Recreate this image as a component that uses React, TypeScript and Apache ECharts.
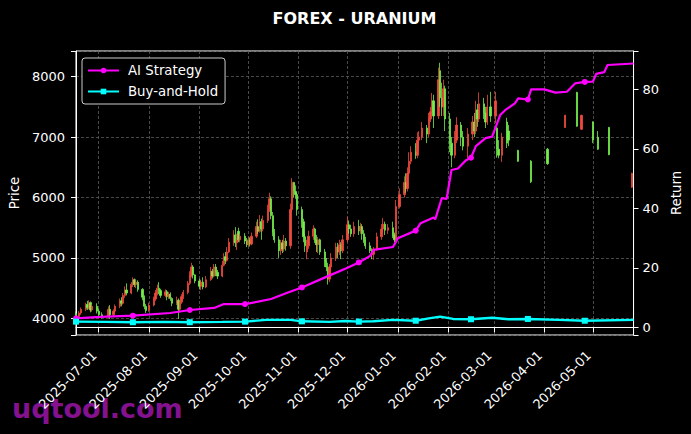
import React, { useEffect, useRef } from 'react';
import * as echarts from 'echarts';

const FONT = '"DejaVu Sans", sans-serif';
const RED = '#f04a3c';
const GREEN = '#74ee4c';
const MAGENTA = '#ff00ff';
const CYAN = '#00ffff';

// calendar range of the x axis
const START_UTC = Date.UTC(2025, 5, 17);
const END_UTC = Date.UTC(2026, 4, 26);

// [date, open, close, low, high]
const candles: [string, number, number, number, number][] = [
  ['2025-06-17', 4080, 4030, 4000, 4110],
  ['2025-06-19', 4030, 4090, 4000, 4120],
  ['2025-06-20', 4090, 4150, 4060, 4180],
  ['2025-06-23', 4150, 4230, 4120, 4260],
  ['2025-06-24', 4230, 4180, 4140, 4290],
  ['2025-06-25', 4180, 4260, 4150, 4300],
  ['2025-06-26', 4260, 4140, 4100, 4280],
  ['2025-06-27', 4140, 4200, 4110, 4230],
  ['2025-06-30', 4200, 4120, 4080, 4250],
  ['2025-07-01', 4120, 4060, 4040, 4160],
  ['2025-07-03', 4060, 4030, 4000, 4100],
  ['2025-07-07', 4030, 4150, 4010, 4200],
  ['2025-07-08', 4150, 4060, 3990, 4220],
  ['2025-07-10', 4060, 4120, 4030, 4150],
  ['2025-07-11', 4120, 4200, 4090, 4230],
  ['2025-07-14', 4200, 4290, 4170, 4330],
  ['2025-07-15', 4290, 4250, 4200, 4350],
  ['2025-07-16', 4250, 4380, 4230, 4420],
  ['2025-07-17', 4380, 4470, 4340, 4530],
  ['2025-07-18', 4470, 4420, 4380, 4580],
  ['2025-07-21', 4420, 4560, 4400, 4600],
  ['2025-07-22', 4560, 4640, 4520, 4680],
  ['2025-07-23', 4640, 4560, 4520, 4660],
  ['2025-07-24', 4560, 4600, 4500, 4640],
  ['2025-07-25', 4600, 4480, 4440, 4630],
  ['2025-07-28', 4480, 4350, 4300, 4500],
  ['2025-07-29', 4350, 4200, 4150, 4380],
  ['2025-07-30', 4200, 4130, 4090, 4240],
  ['2025-08-01', 4130, 4220, 4110, 4260],
  ['2025-08-04', 4220, 4320, 4200, 4360],
  ['2025-08-05', 4320, 4420, 4290, 4470],
  ['2025-08-06', 4420, 4500, 4380, 4560],
  ['2025-08-07', 4500, 4460, 4400, 4600],
  ['2025-08-08', 4460, 4380, 4340, 4490],
  ['2025-08-11', 4380, 4440, 4350, 4480],
  ['2025-08-12', 4440, 4360, 4300, 4470],
  ['2025-08-13', 4360, 4400, 4320, 4440],
  ['2025-08-14', 4400, 4330, 4290, 4430],
  ['2025-08-15', 4330, 4250, 4200, 4350],
  ['2025-08-18', 4250, 4300, 4220, 4360],
  ['2025-08-19', 4300, 4150, 3990, 4330],
  ['2025-08-20', 4150, 4270, 4100, 4300],
  ['2025-08-21', 4270, 4360, 4240, 4400],
  ['2025-08-22', 4360, 4430, 4320, 4470],
  ['2025-08-25', 4430, 4580, 4400, 4620],
  ['2025-08-26', 4580, 4720, 4550, 4780],
  ['2025-08-27', 4720, 4850, 4680, 4920],
  ['2025-08-28', 4850, 4720, 4660, 4880],
  ['2025-08-29', 4720, 4620, 4580, 4730],
  ['2025-09-01', 4620, 4530, 4480, 4660],
  ['2025-09-02', 4530, 4600, 4470, 4640],
  ['2025-09-03', 4600, 4520, 4480, 4680],
  ['2025-09-05', 4520, 4640, 4500, 4700],
  ['2025-09-08', 4640, 4780, 4620, 4850],
  ['2025-09-09', 4780, 4700, 4660, 4820],
  ['2025-09-10', 4700, 4850, 4680, 4900],
  ['2025-09-11', 4850, 4760, 4700, 4900],
  ['2025-09-12', 4760, 4700, 4650, 4800],
  ['2025-09-15', 4700, 4880, 4680, 4950],
  ['2025-09-16', 4880, 5020, 4860, 5080],
  ['2025-09-17', 5020, 4960, 4900, 5100],
  ['2025-09-18', 4960, 5100, 4940, 5180],
  ['2025-09-19', 5100, 5260, 5080, 5330],
  ['2025-09-22', 5260, 5380, 5200, 5460],
  ['2025-09-23', 5380, 5250, 5180, 5510],
  ['2025-09-24', 5250, 5340, 5130, 5400],
  ['2025-09-25', 5440, 5300, 5260, 5500],
  ['2025-09-26', 5300, 5360, 5260, 5400],
  ['2025-09-29', 5360, 5280, 5230, 5410],
  ['2025-09-30', 5280, 5220, 5180, 5330],
  ['2025-10-01', 5220, 5300, 5190, 5350],
  ['2025-10-02', 5300, 5230, 5190, 5340],
  ['2025-10-03', 5230, 5360, 5210, 5420],
  ['2025-10-06', 5360, 5520, 5330, 5600],
  ['2025-10-07', 5520, 5440, 5400, 5640],
  ['2025-10-08', 5440, 5600, 5420, 5710],
  ['2025-10-09', 5600, 5480, 5300, 5650],
  ['2025-10-10', 5480, 5620, 5440, 5700],
  ['2025-10-13', 5620, 5800, 5580, 5880],
  ['2025-10-14', 5800, 5980, 5760, 6080],
  ['2025-10-15', 5980, 5700, 5640, 6020],
  ['2025-10-16', 5700, 5420, 5360, 5760],
  ['2025-10-17', 5420, 5300, 5250, 5480],
  ['2025-10-20', 5300, 5120, 5000, 5360],
  ['2025-10-21', 5120, 5250, 5050, 5300],
  ['2025-10-22', 5250, 5150, 5080, 5300],
  ['2025-10-23', 5150, 5280, 5100, 5380],
  ['2025-10-24', 5280, 5200, 5120, 5330],
  ['2025-10-27', 5200, 5800, 5150, 5900],
  ['2025-10-28', 5800, 6250, 5750, 6320],
  ['2025-10-29', 6250, 6100, 6000, 6260],
  ['2025-10-30', 6100, 6050, 5980, 6200],
  ['2025-10-31', 6050, 5800, 5700, 6080],
  ['2025-11-03', 5800, 5600, 5500, 5850],
  ['2025-11-04', 5600, 5350, 5260, 5650],
  ['2025-11-05', 5350, 5200, 5100, 5400],
  ['2025-11-06', 5100, 5200, 4980, 5300],
  ['2025-11-07', 5200, 5360, 5150, 5450],
  ['2025-11-10', 5360, 5480, 5300, 5540],
  ['2025-11-11', 5480, 5300, 5250, 5500],
  ['2025-11-12', 5300, 5220, 5100, 5380],
  ['2025-11-13', 5220, 5300, 5080, 5350],
  ['2025-11-14', 5300, 5100, 5050, 5320],
  ['2025-11-17', 5100, 4950, 4850, 5150],
  ['2025-11-18', 4950, 4850, 4780, 5000],
  ['2025-11-19', 4850, 4650, 4560, 4920],
  ['2025-11-20', 4650, 4850, 4600, 4900],
  ['2025-11-21', 4850, 5000, 4780, 5080],
  ['2025-11-24', 5000, 5180, 4950, 5250],
  ['2025-11-25', 5180, 5100, 5000, 5250],
  ['2025-11-26', 5100, 5220, 5050, 5300],
  ['2025-11-27', 5220, 5120, 4980, 5260],
  ['2025-11-28', 5120, 5300, 5080, 5380],
  ['2025-12-01', 5300, 5550, 5260, 5680],
  ['2025-12-02', 5550, 5480, 5400, 5620],
  ['2025-12-03', 5480, 5400, 5350, 5550],
  ['2025-12-05', 5400, 5520, 5350, 5600],
  ['2025-12-08', 5520, 5450, 5380, 5630],
  ['2025-12-09', 5450, 5520, 5400, 5580],
  ['2025-12-10', 5520, 5400, 5300, 5560],
  ['2025-12-11', 5400, 5300, 5250, 5460],
  ['2025-12-12', 5300, 5200, 5150, 5350],
  ['2025-12-15', 5200, 5120, 5080, 5260],
  ['2025-12-16', 5120, 5060, 4980, 5160],
  ['2025-12-17', 5060, 5150, 4970, 5180],
  ['2025-12-19', 5150, 5350, 5120, 5420],
  ['2025-12-22', 5350, 5480, 5300, 5560],
  ['2025-12-23', 5480, 5560, 5420, 5660],
  ['2025-12-24', 5560, 5460, 5380, 5600],
  ['2025-12-26', 5460, 5500, 5400, 5560],
  ['2025-12-29', 5500, 5380, 5330, 5600],
  ['2025-12-30', 5380, 5300, 5260, 5420],
  ['2025-12-31', 5300, 5850, 5280, 5960],
  ['2026-01-02', 5850, 6050, 5820, 6150],
  ['2026-01-05', 6050, 6250, 6000, 6350],
  ['2026-01-06', 6250, 6150, 6080, 6400],
  ['2026-01-07', 6150, 6400, 6100, 6500],
  ['2026-01-08', 6400, 6600, 6350, 6750],
  ['2026-01-09', 6600, 6750, 6550, 6850],
  ['2026-01-12', 6750, 6700, 6640, 6900],
  ['2026-01-13', 6700, 6950, 6650, 7080],
  ['2026-01-14', 6950, 7000, 6800, 7100],
  ['2026-01-16', 7000, 7150, 6950, 7250],
  ['2026-01-19', 7150, 7050, 6900, 7200],
  ['2026-01-20', 7050, 7300, 7000, 7400],
  ['2026-01-21', 7300, 7420, 7250, 7500],
  ['2026-01-22', 7420, 7600, 7380, 7730],
  ['2026-01-23', 7600, 7350, 7150, 7700],
  ['2026-01-26', 7350, 7950, 7300, 8150],
  ['2026-01-27', 8100, 7650, 7500, 8230],
  ['2026-01-28', 7650, 7500, 7350, 7900],
  ['2026-01-29', 7500, 7800, 7350, 7950],
  ['2026-01-30', 7800, 7300, 7100, 7850],
  ['2026-02-02', 7300, 6900, 6750, 7400],
  ['2026-02-03', 6900, 6700, 6500, 7000],
  ['2026-02-05', 6700, 6950, 6650, 7100],
  ['2026-02-06', 6950, 7200, 6900, 7330],
  ['2026-02-09', 7200, 7000, 6850, 7250],
  ['2026-02-10', 7000, 6850, 6780, 7100],
  ['2026-02-13', 6850, 7050, 6650, 7150],
  ['2026-02-16', 7050, 7250, 6950, 7350],
  ['2026-02-17', 7250, 7100, 7000, 7400],
  ['2026-02-18', 7100, 7450, 7050, 7600],
  ['2026-02-19', 7450, 7300, 7170, 7550],
  ['2026-02-20', 7300, 7550, 7250, 7740],
  ['2026-02-23', 7550, 7400, 7300, 7650],
  ['2026-02-24', 7400, 7250, 7150, 7500],
  ['2026-02-25', 7250, 7500, 7200, 7700],
  ['2026-02-27', 7500, 7350, 7250, 7750],
  ['2026-03-02', 7350, 7600, 7230, 7750],
  ['2026-03-03', 7150, 6800, 6660, 7170],
  ['2026-03-04', 6800, 6700, 6650, 6950],
  ['2026-03-06', 6700, 7000, 6590, 7070],
  ['2026-03-09', 7250, 6900, 6820, 7320],
  ['2026-03-10', 7100, 6950, 6850, 7200],
  ['2026-03-16', 6780, 6600, 6590, 6790],
  ['2026-03-24', 6600, 6260, 6240, 6620],
  ['2026-04-03', 6800, 6560, 6540, 6820],
  ['2026-04-14', 7160, 7360, 7150, 7370],
  ['2026-04-21', 7740, 7180, 7170, 7750],
  ['2026-04-24', 7130, 7360, 7120, 7370],
  ['2026-05-01', 7250, 6950, 6900, 7260],
  ['2026-05-04', 7000, 6800, 6790, 7100],
  ['2026-05-11', 7160, 6710, 6700, 7170],
  ['2026-05-25', 6170, 6400, 6160, 6410],
];

// [date, return]
const aiStrategy: [string, number][] = [
  ['2025-06-17', 3.0], ['2025-07-02', 3.5], ['2025-07-22', 3.9], ['2025-08-14', 4.8],
  ['2025-08-26', 5.8], ['2025-09-10', 6.5], ['2025-09-16', 7.8], ['2025-09-29', 7.8],
  ['2025-10-07', 8.6], ['2025-10-15', 9.5], ['2025-10-25', 11.6], ['2025-11-03', 13.4],
  ['2025-11-19', 17.2], ['2025-11-30', 19.8], ['2025-12-08', 21.8], ['2025-12-15', 24.0],
  ['2025-12-17', 26.0], ['2025-12-29', 27.0], ['2026-01-01', 29.9], ['2026-01-12', 32.5],
  ['2026-01-15', 35.0], ['2026-01-23', 36.9], ['2026-01-24', 36.3], ['2026-01-28', 43.4],
  ['2026-01-31', 43.2], ['2026-02-03', 52.9], ['2026-02-07', 53.4], ['2026-02-12', 56.2],
  ['2026-02-15', 57.0], ['2026-02-18', 60.9], ['2026-02-24', 63.6], ['2026-02-28', 64.1],
  ['2026-03-05', 71.4], ['2026-03-08', 73.0], ['2026-03-14', 75.3], ['2026-03-16', 77.0],
  ['2026-03-22', 76.6], ['2026-03-24', 80.0], ['2026-04-01', 80.0], ['2026-04-08', 78.9],
  ['2026-04-15', 79.2], ['2026-04-20', 82.0], ['2026-04-26', 82.5], ['2026-05-01', 82.6],
  ['2026-05-03', 85.2], ['2026-05-08', 85.8], ['2026-05-10', 88.2], ['2026-05-26', 88.7],
];

const buyAndHold: [string, number][] = [
  ['2025-06-17', 1.9], ['2025-07-05', 1.8], ['2025-07-22', 1.7], ['2025-08-10', 1.8],
  ['2025-08-26', 1.7], ['2025-09-15', 1.8], ['2025-09-29', 1.9], ['2025-10-12', 2.5],
  ['2025-10-27', 2.5], ['2025-11-03', 2.0], ['2025-11-20', 1.8], ['2025-11-30', 2.1],
  ['2025-12-08', 1.9], ['2025-12-17', 2.0], ['2025-12-29', 2.5], ['2026-01-12', 2.2],
  ['2026-01-20', 3.0], ['2026-01-27', 3.6], ['2026-02-04', 2.8], ['2026-02-15', 2.7],
  ['2026-02-28', 3.2], ['2026-03-10', 2.7], ['2026-03-22', 2.8], ['2026-04-10', 2.5],
  ['2026-04-26', 2.2], ['2026-05-26', 2.5],
];

const markerDates = [
  '2025-06-17', '2025-07-22', '2025-08-26', '2025-09-29', '2025-11-03',
  '2025-12-08', '2026-01-12', '2026-02-15', '2026-03-22', '2026-04-26',
];

const categories: string[] = [];
for (let t = START_UTC; t <= END_UTC; t += 86400000) {
  categories.push(new Date(t).toISOString().slice(0, 10));
}

export default function App() {
  const ref = useRef<HTMLDivElement>(null);
  useEffect(() => {
    if (!ref.current) return;
    const chart = echarts.init(ref.current, null, { renderer: 'svg' });
    const idx = (d: string) => categories.indexOf(d);
    const candleData = candles.map((c) => [idx(c[0]), c[1], c[2], c[3], c[4]]);
    const lineData = (arr: [string, number][]) =>
      arr.map(([d, v]) =>
        markerDates.includes(d) ? { value: [idx(d), v] } : { value: [idx(d), v], symbol: 'none' }
      );
    const isMonthStart = (_i: number, v: string) => typeof v === 'string' && v.endsWith('-01');
    const gridLine = { color: '#5c5c5c', type: [3, 2], width: 0.8 };

    const option: any = {
      animation: false,
      backgroundColor: '#000',
      textStyle: { fontFamily: FONT },
      graphic: [
        {
          type: 'text', x: 354.5, y: 18,
          style: { text: 'FOREX - URANIUM', fill: '#fff', font: `bold 16px ${FONT}`, align: 'center', verticalAlign: 'middle' },
        },
        {
          type: 'text', x: 12, y: 408, z: -1,
          style: { text: 'uqtool.com', fill: '#84128e', font: `bold 27px ${FONT}`, align: 'left', verticalAlign: 'middle' },
        },
      ],
      legend: {
        data: ['AI Strategy', 'Buy-and-Hold'],
        orient: 'vertical', left: 82, top: 58,
        itemWidth: 31, itemHeight: 7, itemGap: 8,
        padding: [6, 7, 6, 5],
        backgroundColor: '#000', borderColor: '#cccccc', borderWidth: 1, borderRadius: 3,
        textStyle: { color: '#fff', fontSize: 13.3, fontFamily: FONT, padding: [0, 0, 0, 4] },
      },
      grid: { left: 75, right: 57, top: 51, bottom: 99, show: true, borderColor: '#fff', borderWidth: 1, backgroundColor: 'transparent' },
      xAxis: {
        type: 'category', data: categories, boundaryGap: false,
        axisLine: { lineStyle: { color: '#fff', width: 1 } },
        axisTick: { interval: isMonthStart, length: 5, lineStyle: { color: '#fff' } },
        axisLabel: { interval: isMonthStart, rotate: 45, color: '#fff', fontSize: 13, margin: 14, padding: [0, 6, 0, 0], fontFamily: FONT },
        splitLine: { show: true, interval: isMonthStart, lineStyle: gridLine },
      },
      yAxis: [
        {
          type: 'value', position: 'left', min: 3725, max: 8425, scale: true,
          name: 'Price', nameLocation: 'middle', nameGap: 47, nameRotate: 90,
          nameTextStyle: { color: '#fff', fontSize: 13.3, fontFamily: FONT },
          axisLine: { show: true, lineStyle: { color: '#fff' } },
          axisTick: { show: true, length: 5, lineStyle: { color: '#fff' } },
          axisLabel: {
            color: '#fff', fontSize: 13, margin: 11, fontFamily: FONT,
            formatter: (v: number) => (Math.abs(v % 1000) < 1e-6 ? String(Math.round(v)) : ''),
          },
          splitLine: { show: true, lineStyle: gridLine },
        },
        {
          type: 'value', position: 'right', min: -2.6, max: 92.9,
          name: 'Return', nameLocation: 'middle', nameGap: 28, nameRotate: 90,
          nameTextStyle: { color: '#fff', fontSize: 13.3, fontFamily: FONT },
          axisLine: { show: true, lineStyle: { color: '#fff' } },
          axisTick: { show: true, length: 5, lineStyle: { color: '#fff' } },
          axisLabel: {
            color: '#fff', fontSize: 13, margin: 9, fontFamily: FONT,
            formatter: (v: number) => {
              const r = Math.round(v / 20) * 20;
              return Math.abs(v - r) < 1e-6 ? String(r) : '';
            },
          },
          splitLine: { show: false },
        },
      ],
      series: [
        {
          type: 'candlestick', name: 'Price', xAxisIndex: 0, yAxisIndex: 0,
          data: candleData, encode: { x: 0, y: [1, 2, 3, 4] },
          barWidth: 1.8, z: 2,
          itemStyle: { color: RED, color0: GREEN, borderColor: RED, borderColor0: GREEN, borderWidth: 0.8 },
        },
        {
          type: 'line', name: 'AI Strategy', xAxisIndex: 0, yAxisIndex: 1,
          data: lineData(aiStrategy), symbol: 'circle', symbolSize: 6, showAllSymbol: true,
          lineStyle: { color: MAGENTA, width: 2.2 }, itemStyle: { color: MAGENTA }, z: 4,
        },
        {
          type: 'line', name: 'Buy-and-Hold', xAxisIndex: 0, yAxisIndex: 1,
          data: lineData(buyAndHold), symbol: 'rect', symbolSize: 6, showAllSymbol: true,
          lineStyle: { color: CYAN, width: 2.4 }, itemStyle: { color: CYAN }, z: 5,
        },
      ],
    };
    chart.setOption(option);
    return () => chart.dispose();
  }, []);
  return (
    <div
      ref={ref}
      style={{ position: 'absolute', left: 0, top: 0, width: 691, height: 434, background: '#000' }}
    />
  );
}
